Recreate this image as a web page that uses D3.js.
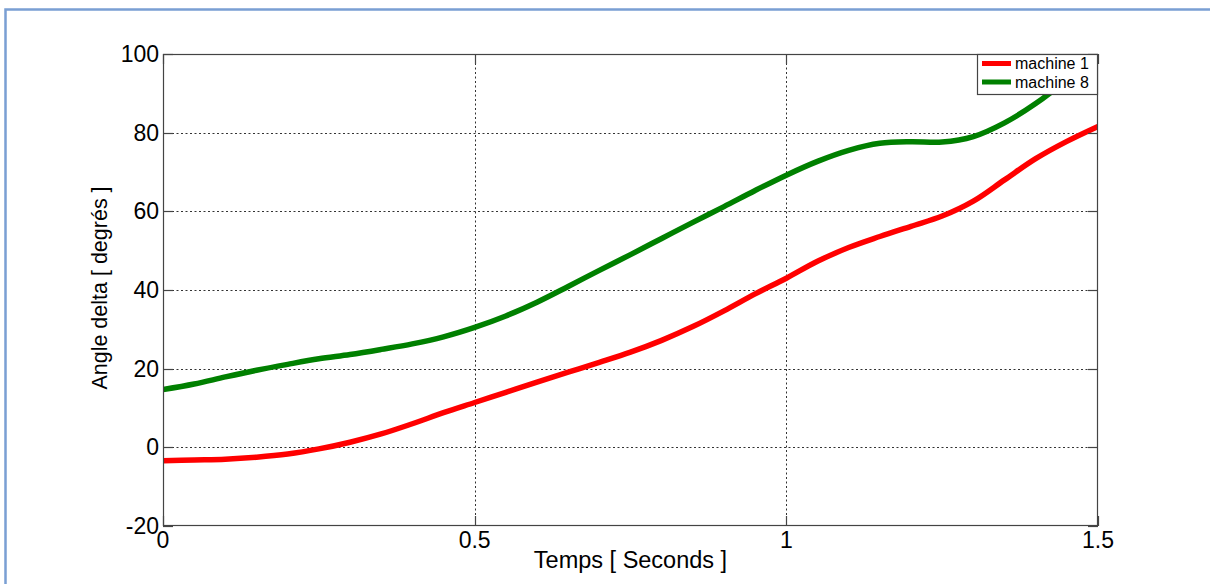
<!DOCTYPE html>
<html>
<head>
<meta charset="utf-8">
<script src="https://cdn.jsdelivr.net/npm/d3@7"></script>
<style>
  html, body { margin: 0; padding: 0; background: #fff; }
  svg { display: block; font-family: "Liberation Sans", Arial, sans-serif; }
</style>
</head>
<body>
<svg id="chart" width="1210" height="584"></svg>
<script>
// ---- data ----
const times = [0, 0.05, 0.1, 0.15, 0.2, 0.25, 0.3, 0.35, 0.4, 0.45, 0.5, 0.55, 0.6, 0.65, 0.7, 0.75,
               0.8, 0.85, 0.9, 0.95, 1.0, 1.05, 1.1, 1.15, 1.2, 1.25, 1.3, 1.35, 1.4, 1.45, 1.5];
const machine1 = [-3.4, -3.2, -3.0, -2.5, -1.7, -0.4, 1.3, 3.4, 6.0, 8.8, 11.4, 14.0, 16.6, 19.1, 21.6, 24.2,
                  27.2, 30.7, 34.7, 39.0, 43.0, 47.3, 50.8, 53.6, 56.2, 58.8, 62.6, 68.0, 73.4, 77.8, 81.6];
const machine8 = [14.7, 16.1, 17.9, 19.6, 21.1, 22.5, 23.6, 24.9, 26.3, 28.1, 30.5, 33.4, 36.9, 40.9, 45.0, 49.0,
                  53.1, 57.2, 61.2, 65.3, 69.2, 72.7, 75.5, 77.3, 77.7, 77.6, 79.0, 82.5, 87.4, 93.5, 100.5];
const seriesNames = ["machine 1", "machine 8"];
const seriesColors = ["#ff0000", "#008000"];
const xTicks = [0, 0.5, 1, 1.5];
const xTickLabels = ["0", "0.5", "1", "1.5"];
const yTicks = [-20, 0, 20, 40, 60, 80, 100];
const yTickLabels = ["-20", "0", "20", "40", "60", "80", "100"];
const xLabel = "Temps [ Seconds ]";
const yLabel = "Angle delta [ degrés ]";

// ---- layout ----
const svg = d3.select("#chart");
const L = 163, R = 1098, T = 54, B = 526;
const x = d3.scaleLinear().domain([0, 1.5]).range([L, R]);
const y = d3.scaleLinear().domain([-20, 100]).range([B, T]);
const axisColor = "#444";

// outer blue frame
svg.append("rect").attr("x", 5.5).attr("y", 9.5).attr("width", 1300).attr("height", 700)
  .attr("fill", "none").attr("stroke", "#7a9fd3").attr("stroke-width", 2.5);

// plot background
svg.append("rect").attr("x", L).attr("y", T).attr("width", R - L).attr("height", B - T).attr("fill", "#fff");

// grid
const grid = svg.append("g").attr("stroke", "#333").attr("stroke-width", 1).attr("stroke-dasharray", "2,2.5");
grid.selectAll("line.gx").data(xTicks.slice(1, -1)).join("line")
  .attr("x1", d => Math.round(x(d)) + 0.5).attr("x2", d => Math.round(x(d)) + 0.5)
  .attr("y1", T).attr("y2", B);
grid.selectAll("line.gy").data(yTicks.slice(1, -1)).join("line")
  .attr("y1", d => Math.round(y(d)) + 0.5).attr("y2", d => Math.round(y(d)) + 0.5)
  .attr("x1", L).attr("x2", R);

// clip
svg.append("defs").append("clipPath").attr("id", "clip")
  .append("rect").attr("x", L).attr("y", T).attr("width", R - L).attr("height", B - T);

// lines
const line = d3.line().x(d => x(d[0])).y(d => y(d[1])).curve(d3.curveCatmullRom.alpha(0.5));
[machine1, machine8].forEach((vals, i) => {
  svg.append("path")
    .datum(times.map((t, k) => [t, vals[k]]))
    .attr("clip-path", "url(#clip)")
    .attr("fill", "none").attr("stroke", seriesColors[i]).attr("stroke-width", 5.5)
    .attr("stroke-linejoin", "round")
    .attr("d", line);
});

// axes (box with inward ticks)
const axG = svg.append("g").attr("stroke", axisColor).attr("stroke-width", 1.2).attr("fill", "none");
axG.append("rect").attr("x", L + 0.5).attr("y", T + 0.5).attr("width", R - L - 1).attr("height", B - T - 1);
const tickLen = 10;
xTicks.forEach(d => {
  const xx = Math.round(x(d)) + 0.5;
  axG.append("line").attr("x1", xx).attr("x2", xx).attr("y1", B).attr("y2", B - tickLen);
  axG.append("line").attr("x1", xx).attr("x2", xx).attr("y1", T).attr("y2", T + tickLen);
});
yTicks.forEach(d => {
  const yy = Math.round(y(d)) + 0.5;
  axG.append("line").attr("y1", yy).attr("y2", yy).attr("x1", L).attr("x2", L + tickLen);
  axG.append("line").attr("y1", yy).attr("y2", yy).attr("x1", R).attr("x2", R - tickLen);
});

// tick labels
svg.append("g").selectAll("text").data(xTicks).join("text")
  .attr("x", d => x(d)).attr("y", 548)
  .attr("text-anchor", "middle").attr("font-size", 23).attr("fill", "#000")
  .text((d, i) => xTickLabels[i]);
svg.append("g").selectAll("text").data(yTicks).join("text")
  .attr("x", 159).attr("y", d => y(d) + 8)
  .attr("text-anchor", "end").attr("font-size", 23).attr("fill", "#000")
  .text((d, i) => yTickLabels[i]);

// axis labels
svg.append("text").attr("x", (L + R) / 2).attr("y", 568)
  .attr("text-anchor", "middle").attr("font-size", 23.5).attr("fill", "#000").text(xLabel);
svg.append("text").attr("transform", `translate(107,${(T + B) / 2 - 2}) rotate(-90)`)
  .attr("text-anchor", "middle").attr("font-size", 21.5).attr("fill", "#000").text(yLabel);

// legend
const lg = svg.append("g");
const lx0 = 977, ly0 = 54, lw = 121, lh = 40;
lg.append("rect").attr("x", lx0 + 0.5).attr("y", ly0 + 0.5).attr("width", lw - 1).attr("height", lh)
  .attr("fill", "#fff").attr("stroke", axisColor).attr("stroke-width", 1.2);
seriesNames.forEach((name, i) => {
  const yy = 63.5 + i * 18.5;
  lg.append("line").attr("x1", 982).attr("x2", 1011).attr("y1", yy).attr("y2", yy)
    .attr("stroke", seriesColors[i]).attr("stroke-width", 5);
  lg.append("text").attr("x", 1015).attr("y", yy + 5.5).attr("font-size", 16).attr("fill", "#000").text(name);
});
</script>
</body>
</html>
